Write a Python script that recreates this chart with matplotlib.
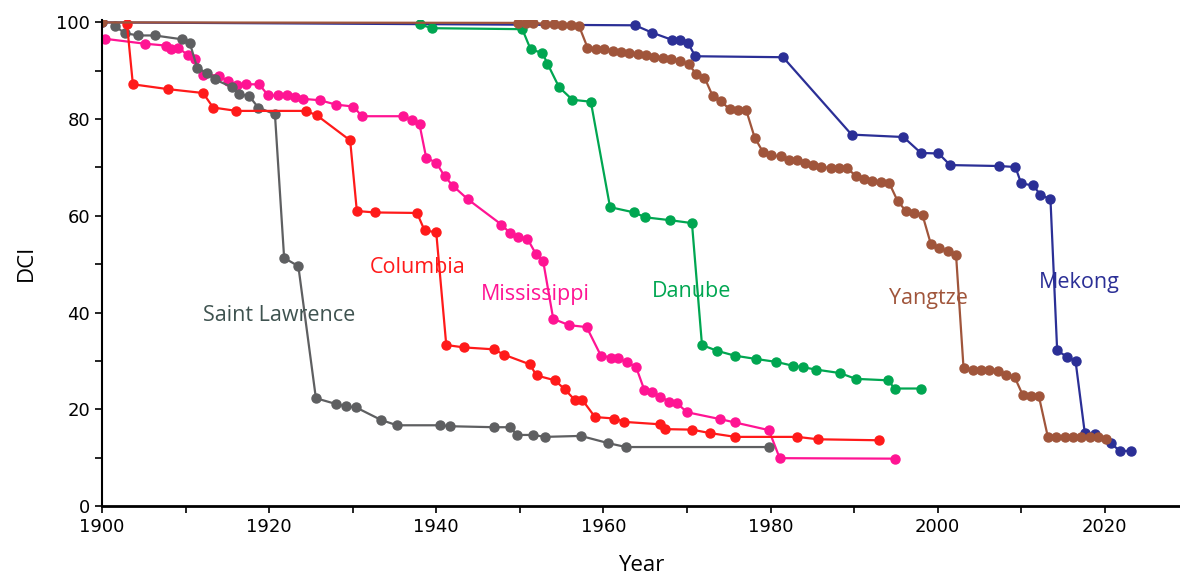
import matplotlib
matplotlib.use("Agg")
from matplotlib import pyplot as plt
from matplotlib.ticker import MultipleLocator

# Saint Lawrence
sl_years = [1901.6, 1902.7, 1904.3, 1906.3, 1909.6, 1910.5, 1911.4, 1912.6, 1913.5, 1915.6,
            1916.4, 1917.6, 1918.7, 1920.7, 1921.8, 1923.5, 1925.6, 1928.0, 1929.2, 1930.4,
            1933.4, 1935.3, 1940.5, 1941.7, 1946.9, 1948.8, 1949.7, 1951.6, 1953.0, 1957.3,
            1960.6, 1962.7, 1979.8]
sl_dci = [99.2, 97.8, 97.3, 97.3, 96.5, 95.8, 90.6, 89.5, 88.2, 86.6,
          85.1, 84.8, 82.4, 81.0, 51.3, 49.6, 22.3, 21.1, 20.6, 20.4,
          17.8, 16.7, 16.7, 16.5, 16.3, 16.3, 14.7, 14.7, 14.3, 14.5,
          13.0, 12.2, 12.2]

# Columbia
co_years = [1903.0, 1903.7, 1907.9, 1912.1, 1913.3, 1916.1, 1924.4, 1925.7, 1929.7, 1930.5,
            1932.7, 1937.7, 1938.6, 1940.0, 1941.2, 1943.3, 1946.9, 1948.1, 1951.2, 1952.0,
            1954.2, 1955.4, 1956.6, 1957.5, 1959.0, 1961.3, 1962.5, 1966.8, 1967.4, 1970.6,
            1972.7, 1975.8, 1983.2, 1985.7, 1993.0]
co_dci = [99.6, 87.2, 86.2, 85.4, 82.4, 81.7, 81.7, 80.8, 75.6, 61.0,
          60.7, 60.6, 57.0, 56.6, 33.3, 32.8, 32.4, 31.3, 29.3, 27.0,
          26.0, 24.1, 21.9, 21.9, 18.4, 18.1, 17.4, 16.9, 15.9, 15.8,
          15.1, 14.3, 14.3, 13.8, 13.6]

# Mississippi
mi_years = [1900.4, 1905.1, 1907.7, 1908.3, 1909.1, 1910.3, 1911.1, 1912.1, 1914.0, 1915.1,
            1916.2, 1917.2, 1918.8, 1919.9, 1921.1, 1922.1, 1923.1, 1924.0, 1926.1, 1928.0,
            1930.1, 1931.1, 1936.0, 1937.1, 1938.0, 1938.8, 1940.0, 1941.0, 1942.0, 1943.8,
            1947.8, 1948.8, 1949.8, 1950.9, 1951.9, 1952.8, 1954.0, 1955.9, 1958.0, 1959.7,
            1960.9, 1961.8, 1962.8, 1963.9, 1964.9, 1965.8, 1966.8, 1967.9, 1968.8, 1970.0,
            1973.9, 1975.7, 1979.8, 1981.1, 1994.9]
mi_dci = [96.6, 95.6, 95.2, 94.6, 94.8, 93.2, 92.5, 89.2, 89.0, 87.8,
          87.1, 87.2, 87.2, 84.9, 84.9, 84.9, 84.6, 84.2, 83.9, 83.0,
          82.6, 80.6, 80.6, 79.8, 78.9, 72.0, 71.0, 68.2, 66.2, 63.4,
          58.2, 56.5, 55.6, 55.3, 52.2, 50.6, 38.7, 37.4, 37.0, 31.1,
          30.7, 30.6, 29.7, 28.8, 24.0, 23.6, 22.6, 21.6, 21.3, 19.4,
          18.0, 17.3, 15.7, 9.9, 9.8]

# Danube
da_years = [1938.0, 1939.5, 1950.3, 1951.3, 1952.7, 1953.3, 1954.7, 1956.3, 1958.5, 1960.8,
            1963.7, 1965.0, 1968.0, 1970.6, 1971.8, 1973.6, 1975.7, 1978.3, 1980.7, 1982.7,
            1983.9, 1985.5, 1988.3, 1990.2, 1994.0, 1994.9, 1998.0]
da_dci = [99.6, 98.8, 98.6, 94.4, 93.7, 91.5, 86.6, 84.0, 83.6, 61.8,
          60.7, 59.7, 59.1, 58.5, 33.3, 32.1, 31.1, 30.4, 29.8, 29.0,
          28.7, 28.2, 27.5, 26.3, 26.0, 24.3, 24.3]

# Yangtze
ya_years = [1900.0, 1949.8, 1950.7, 1951.6, 1953.0, 1954.1, 1955.1, 1956.1, 1957.1, 1958.1,
            1959.1, 1960.1, 1961.1, 1962.1, 1963.1, 1964.1, 1965.1, 1966.1, 1967.1, 1968.1,
            1969.2, 1970.2, 1971.1, 1972.1, 1973.1, 1974.1, 1975.1, 1976.1, 1977.1, 1978.1,
            1979.1, 1980.1, 1981.2, 1982.2, 1983.2, 1984.1, 1985.1, 1986.1, 1987.2, 1988.2,
            1989.2, 1990.2, 1991.2, 1992.2, 1993.2, 1994.2, 1995.2, 1996.2, 1997.2, 1998.2,
            1999.2, 2000.2, 2001.2, 2002.2, 2003.1, 2004.2, 2005.2, 2006.2, 2007.2, 2008.2,
            2009.2, 2010.2, 2011.2, 2012.1, 2013.2, 2014.2, 2015.2, 2016.2, 2017.2, 2018.2,
            2019.2, 2020.2]
ya_dci = [100.0, 99.9, 99.9, 99.9, 99.7, 99.7, 99.5, 99.4, 99.2, 94.8,
          94.6, 94.4, 94.1, 93.9, 93.7, 93.4, 93.2, 92.8, 92.6, 92.5,
          92.1, 91.3, 89.4, 88.6, 84.7, 83.7, 82.0, 81.8, 81.8, 76.2,
          73.2, 72.5, 72.3, 71.6, 71.5, 70.9, 70.5, 70.1, 69.9, 69.9,
          69.9, 68.2, 67.6, 67.2, 67.1, 66.8, 63.1, 61.0, 60.6, 60.1,
          54.1, 53.3, 52.7, 52.0, 28.5, 28.1, 28.1, 28.1, 28.0, 27.1,
          26.7, 22.9, 22.8, 22.8, 14.2, 14.2, 14.2, 14.2, 14.2, 14.2,
          14.2, 13.8]

# Mekong
me_years = [1900.0, 1963.8, 1965.8, 1968.2, 1969.2, 1970.1, 1971.0, 1981.5, 1989.7, 1995.9,
            1998.0, 2000.1, 2001.5, 2007.4, 2009.3, 2010.0, 2011.4, 2012.3, 2013.5, 2014.3,
            2015.5, 2016.5, 2017.6, 2018.8, 2020.7, 2021.8, 2023.1]
me_dci = [100.0, 99.4, 97.9, 96.4, 96.4, 95.8, 93.0, 92.8, 76.8, 76.3,
          73.0, 72.9, 70.5, 70.3, 70.1, 66.7, 66.3, 64.4, 63.4, 32.2,
          30.8, 30.0, 15.2, 14.8, 13.0, 11.4, 11.4]

fig = plt.figure(figsize=(11.8, 5.79), dpi=100)
ax = fig.add_axes([0.0864, 0.126, 0.9136, 0.8395])

style = dict(marker='o', markersize=6.5, linewidth=1.6)
ax.plot(me_years, me_dci, color='#2b2f96', **style)
ax.plot(mi_years, mi_dci, color='#ff1493', **style)
ax.plot(da_years, da_dci, color='#00a651', **style)
ax.plot(sl_years, sl_dci, color='#5e5f61', **style)
ax.plot(co_years, co_dci, color='#ff1a1a', **style)
ax.plot(ya_years, ya_dci, color='#a0553b', **style)

font = 'Open Sans'
fs = 15.5
ax.text(1921.2, 39.5, 'Saint Lawrence', color='#3f5350', fontsize=fs, family=font, ha='center', va='center')
ax.text(1937.8, 49.4, 'Columbia', color='#ff1a1a', fontsize=fs, family=font, ha='center', va='center')
ax.text(1951.8, 43.8, 'Mississippi', color='#ff1493', fontsize=fs, family=font, ha='center', va='center')
ax.text(1970.5, 44.4, 'Danube', color='#00a651', fontsize=fs, family=font, ha='center', va='center')
ax.text(1998.9, 43.0, 'Yangtze', color='#a0553b', fontsize=fs, family=font, ha='center', va='center')
ax.text(2016.9, 46.3, 'Mekong', color='#2b2f96', fontsize=fs, family=font, ha='center', va='center')

ax.set_xlim(1900, 2029)
ax.set_ylim(0, 100.5)
ax.spines['top'].set_visible(False)
ax.spines['right'].set_visible(False)
ax.spines['left'].set_linewidth(1.5)
ax.spines['bottom'].set_linewidth(2)
ax.xaxis.set_major_locator(MultipleLocator(20))
ax.xaxis.set_minor_locator(MultipleLocator(10))
ax.yaxis.set_major_locator(MultipleLocator(20))
ax.yaxis.set_minor_locator(MultipleLocator(10))
ax.tick_params(which='both', direction='out', length=5, width=1.2)
for lab in ax.get_xticklabels() + ax.get_yticklabels():
    lab.set_fontfamily('Liberation Sans Narrow')
    lab.set_fontsize(13)
ax.set_xlabel('Year', fontsize=16, family=font, labelpad=14)
ax.set_ylabel('DCI', fontsize=16, family=font, labelpad=14)

plt.savefig('out.png', dpi=100)
